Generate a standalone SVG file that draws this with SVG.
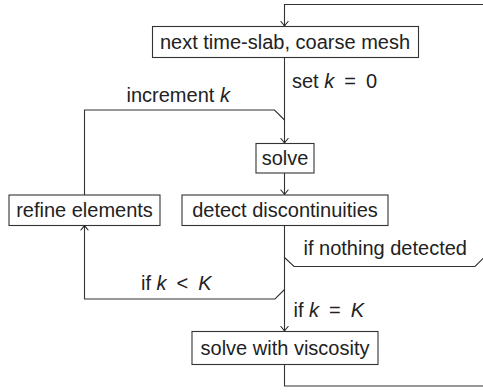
<svg xmlns="http://www.w3.org/2000/svg" width="483" height="392" viewBox="0 0 483 392">
<defs>
<marker id="arr" markerWidth="10" markerHeight="10" viewBox="-6 -5 8 10" refX="0" refY="0" orient="auto" markerUnits="userSpaceOnUse">
<path d="M -4.5,-3.6 Q -1.5,-1 0,0 Q -1.5,1 -4.5,3.6" fill="none" stroke="#222" stroke-width="1.1" stroke-linecap="round"/>
</marker>
</defs>
<style>
.box{fill:#fff;stroke:#333;stroke-width:1.1}
.ln{fill:none;stroke:#333;stroke-width:1.1}
text{font-family:"Liberation Sans",Arial,sans-serif;font-size:20px;fill:#222}
.t{text-anchor:middle}
.m{font-style:italic}
</style>
<g id="connectors">
<path class="ln" d="M483,4.5 H284.5 V26" marker-end="url(#arr)"/>
<path class="ln" d="M284.5,57.5 V143" marker-end="url(#arr)"/>
<path class="ln" d="M84.5,195 V110 H274.5 L284.5,120"/>
<path class="ln" d="M284.5,173 V194.5" marker-end="url(#arr)"/>
<path class="ln" d="M284.5,225.5 V331" marker-end="url(#arr)"/>
<path class="ln" d="M284.5,257.5 L294,266.5 H475 L483.5,258"/>
<path class="ln" d="M284.5,289.5 L275,299 H84.5 V225.5" marker-end="url(#arr)"/>
<path class="ln" d="M284.5,364.5 V386 H483"/>
<text x="292" y="88">set <tspan class="m">k</tspan><tspan dx="10">=</tspan><tspan dx="10">0</tspan></text>
<text x="126.5" y="102">increment <tspan class="m">k</tspan></text>
<text x="303.5" y="255">if nothing detected</text>
<text x="141" y="290">if <tspan class="m">k</tspan><tspan dx="10">&lt;</tspan><tspan class="m" dx="10">K</tspan></text>
<text x="293.5" y="317">if <tspan class="m">k</tspan><tspan dx="10">=</tspan><tspan class="m" dx="10">K</tspan></text>
</g>
<g id="n1"><rect class="box" x="152.5" y="26.5" width="266" height="31"/><text class="t" x="285" y="49">next time-slab, coarse mesh</text></g>
<g id="n2"><rect class="box" x="256" y="143.5" width="58" height="29.5"/><text class="t" x="285" y="165">solve</text></g>
<g id="n3"><rect class="box" x="182" y="195" width="206" height="30.5"/><text class="t" x="285" y="217">detect discontinuities</text></g>
<g id="n4"><rect class="box" x="9" y="195" width="151" height="30.5"/><text class="t" x="84.5" y="217">refine elements</text></g>
<g id="n5"><rect class="box" x="192" y="331.5" width="186" height="33"/><text class="t" x="285" y="355">solve with viscosity</text></g>
</svg>
